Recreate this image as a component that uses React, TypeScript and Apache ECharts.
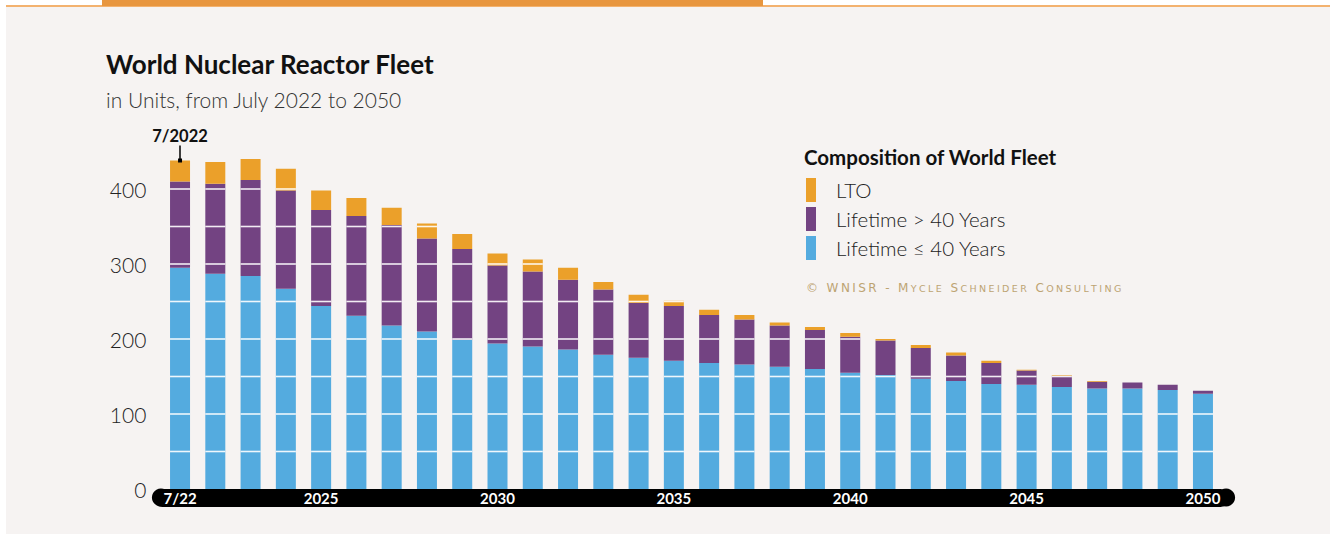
import React, { useEffect, useRef } from "react";
import * as echarts from "echarts";

const categories: string[] = [
  "7/22", "2022", "2023", "2024", "2025", "2026", "2027", "2028", "2029", "2030",
  "2031", "2032", "2033", "2034", "2035", "2036", "2037", "2038", "2039", "2040",
  "2041", "2042", "2043", "2044", "2045", "2046", "2047", "2048", "2049", "2050",
];

const under40: number[] = [
  295, 287, 284, 267, 244, 231, 218, 210, 199, 194,
  190, 186, 179, 175, 171, 168, 166, 163, 160, 155,
  152, 147, 144, 140, 139, 136, 134, 134, 132, 127,
];

const over40: number[] = [
  115, 120, 128, 131, 128, 133, 134, 124, 121, 104,
  100, 93, 87, 73, 73, 64, 60, 55, 52, 48,
  46, 41, 34, 28, 19, 15, 9, 8, 7, 4,
];

const lto: number[] = [
  28, 29, 28, 29, 26, 24, 23, 20, 20, 16,
  16, 16, 10, 11, 7, 7, 6, 4, 4, 5,
  2, 4, 4, 3, 1, 1, 1, 0, 0, 0,
];

const yTicks: number[] = [0, 100, 200, 300, 400];
const xLabelShown: string[] = ["7/22", "2025", "2030", "2035", "2040", "2045", "2050"];

const COL_LTO = "#eba02a";
const COL_OVER = "#734382";
const COL_UNDER = "#54abdf";
const BG = "#f6f3f2";

const COPYRIGHT = "© WNISR - Mycle Schneider Consulting";

function smallCaps(text: string): string {
  let out = "";
  for (const ch of text) {
    const isUpper = ch !== ch.toLowerCase() || !/[a-z]/i.test(ch);
    const up = ch.toUpperCase();
    out += `{${isUpper ? "b" : "s"}|${up}}`;
  }
  return out;
}

export default function App() {
  const ref = useRef<HTMLDivElement>(null);

  useEffect(() => {
    document.body.style.margin = "0";
    if (!ref.current) return;
    const chart = echarts.init(ref.current, null, { renderer: "svg" });
    const totals = categories.map((_, i) => under40[i] + over40[i] + lto[i]);
    const font = "Lato";
    const cpColor = "#bda472";

    const option: any = {
      animation: false,
      backgroundColor: "#ffffff",
      textStyle: { fontFamily: font },
      graphic: [
        { type: "rect", z: -10, shape: { x: 6, y: 7, width: 1324, height: 527 }, style: { fill: BG } },
        { type: "rect", z: -9, shape: { x: 6, y: 5, width: 1324, height: 2 }, style: { fill: "#f3b26f" } },
        { type: "rect", z: -8, shape: { x: 102, y: 0, width: 661, height: 6 }, style: { fill: "#e8963f" } },
        {
          type: "text", left: 106, top: 51,
          style: { text: "World Nuclear Reactor Fleet", fontFamily: font, fontSize: 26, fontWeight: "bold", fill: "#111" },
        },
        {
          type: "text", left: 106, top: 89,
          style: { text: "in Units, from July 2022 to 2050", fontFamily: font, fontSize: 21, fontWeight: 300, fill: "#333" },
        },
        {
          type: "text", left: 804, top: 146,
          style: { text: "Composition of World Fleet", fontFamily: font, fontSize: 20.5, fontWeight: "bold", fill: "#111" },
        },
        {
          type: "text", left: 806, top: 282,
          style: {
            text: smallCaps(COPYRIGHT),
            rich: {
              b: { fontFamily: "DejaVu Sans", fontSize: 12, fill: cpColor, padding: [0, 2.4, 0, 0] },
              s: { fontFamily: "DejaVu Sans", fontSize: 9.5, fill: cpColor, padding: [0, 2.4, 0, 0] },
            },
          },
        },
      ],
      legend: {
        orient: "vertical",
        left: 806,
        top: 178,
        padding: 0,
        itemWidth: 10,
        itemHeight: 24,
        itemGap: 5,
        icon: "rect",
        data: ["LTO", "Lifetime > 40 Years", "Lifetime ≤ 40 Years"],
        textStyle: { fontFamily: font, fontSize: 20.5, fontWeight: 300, color: "#222", padding: [0, 0, 0, 15] },
        selectedMode: false,
      },
      grid: { left: 162.4, right: 109.4, top: 114, height: 375, containLabel: false },
      xAxis: [
        {
          type: "category",
          data: categories,
          position: "bottom",
          offset: 8.5,
          z: 4,
          axisLine: {
            show: true,
            onZero: false,
            symbol: ["circle", "circle"],
            symbolSize: [18, 18],
            symbolOffset: [-1.5, 5.5],
            lineStyle: { color: "#000", width: 18, cap: "round" },
          },
          axisTick: { show: false },
          axisLabel: { show: false },
        },
        {
          type: "category",
          data: categories,
          position: "bottom",
          offset: 8.5,
          z: 6,
          axisLine: { show: false, onZero: false },
          axisTick: { show: false },
          axisLabel: {
            interval: (_i: number, v: string) => xLabelShown.indexOf(v) >= 0,
            color: "#fff",
            fontFamily: font,
            fontWeight: "bold",
            fontSize: 15,
            margin: 0,
            verticalAlign: "middle",
          },
        },
      ],
      yAxis: {
        type: "value",
        min: 0,
        max: 500,
        interval: 50,
        axisLine: { show: false },
        axisTick: { show: false },
        splitLine: { show: false },
        axisLabel: {
          formatter: (v: number) => (yTicks.indexOf(v) >= 0 ? String(v) : ""),
          fontFamily: font,
          fontSize: 21,
          fontWeight: 300,
          color: "#222",
          margin: 16,
        },
      },
      series: [
        {
          name: "Lifetime ≤ 40 Years", type: "bar", stack: "fleet", barWidth: 20, xAxisIndex: 0,
          data: under40, itemStyle: { color: COL_UNDER },
        },
        {
          name: "Lifetime > 40 Years", type: "bar", stack: "fleet", barWidth: 20, xAxisIndex: 0,
          data: over40, itemStyle: { color: COL_OVER },
        },
        {
          name: "LTO", type: "bar", stack: "fleet", barWidth: 20, xAxisIndex: 0,
          data: lto, itemStyle: { color: COL_LTO },
        },
        {
          name: "grid-on-bars",
          type: "custom",
          xAxisIndex: 0,
          z: 5,
          silent: true,
          data: totals.map((t, i) => [i, t]),
          renderItem: (_params: any, api: any) => {
            const idx = api.value(0);
            const total = api.value(1);
            const children: any[] = [];
            for (let v = 50; v < total; v += 50) {
              const p = api.coord([idx, v]);
              children.push({
                type: "line",
                shape: { x1: p[0] - 10, y1: p[1], x2: p[0] + 10, y2: p[1] },
                style: { stroke: "rgba(255,255,255,0.9)", lineWidth: 1.6 },
              });
            }
            return { type: "group", children };
          },
          markLine: {
            silent: true,
            symbol: ["rect", "none"],
            symbolSize: 4,
            lineStyle: { color: "#000", width: 1.5, type: "solid" },
            label: {
              show: true, position: "end", formatter: "7/2022", color: "#111",
              fontFamily: font, fontWeight: "bold", fontSize: 16.5, distance: 1,
            },
            data: [[
              { coord: [0, totals[0]] },
              { coord: [0, totals[0] + 20] },
            ]],
          },
        },
      ],
    };
    chart.setOption(option);
    return () => chart.dispose();
  }, []);

  return <div ref={ref} style={{ width: 1330, height: 534 }} />;
}
